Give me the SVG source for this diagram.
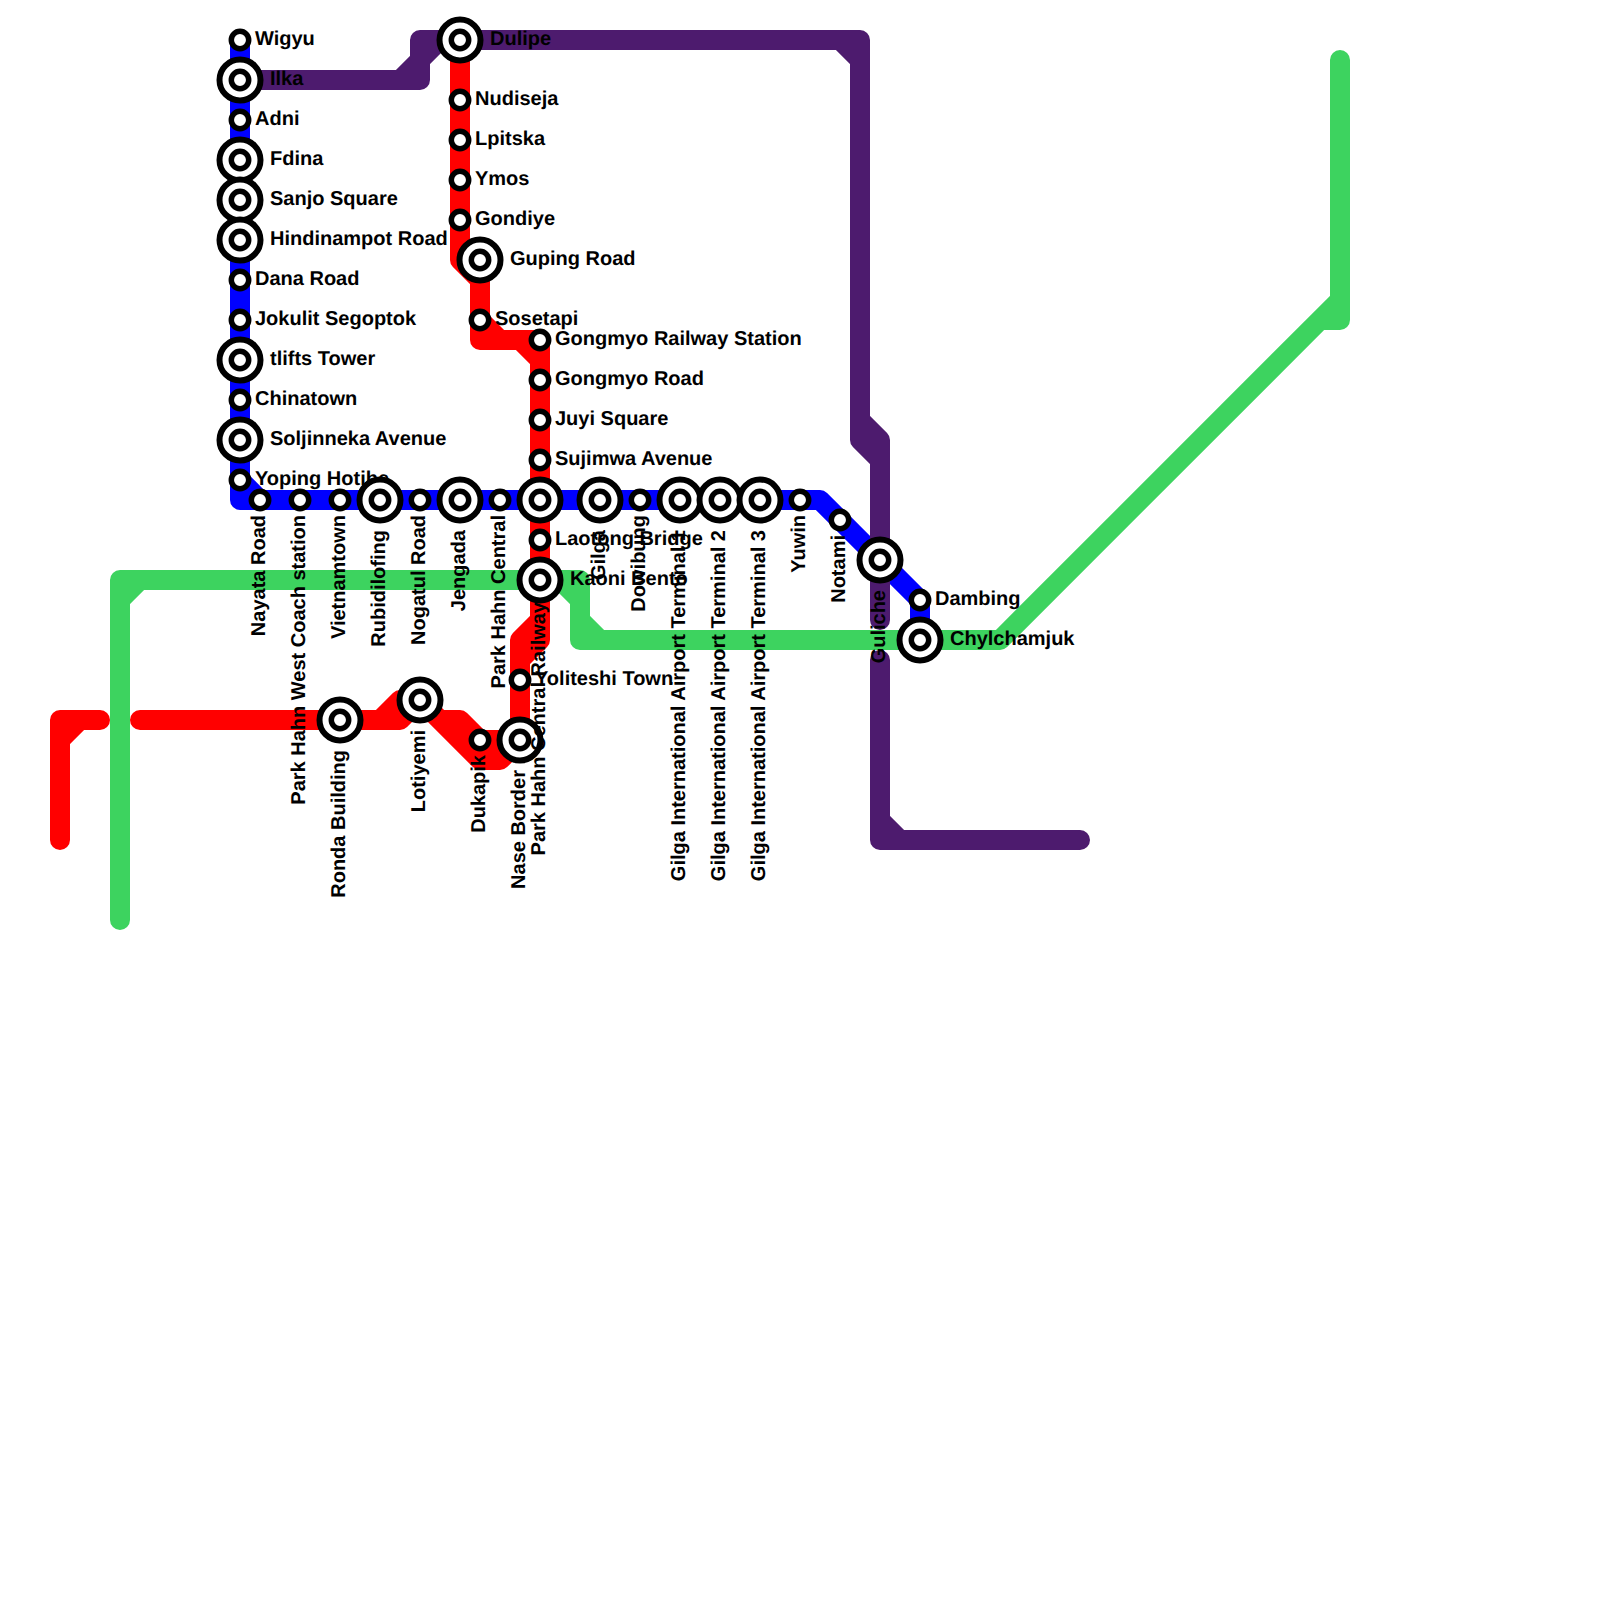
<svg xmlns="http://www.w3.org/2000/svg" width="1600" height="1600" viewBox="0 0 1600 1600">
<style>
.l{fill:none;stroke-width:20;stroke-linecap:round;stroke-linejoin:round}
.b{stroke:#0000ff}.g{stroke:#3dd35f}.r{stroke:#ff0000}.p{stroke:#4d1b6e}
circle{fill:#fff;stroke:#000;stroke-width:5.5}
circle[r="20.5"]{stroke-width:6}
text{font-family:"Liberation Sans",Arial,sans-serif;font-weight:700;font-size:20px;fill:#000;text-rendering:geometricPrecision}
.v{text-anchor:end}
</style>
<rect width="1600" height="1600" fill="#fff"/>
<g id="connectors">
<path class="l b" d="M240 40V500H820L920 600V640M240 480L260 500"/>
<path class="l g" d="M120 920V580H580V640H1000L1340 300V60M140 580L120 600M560 580L580 600M580 620L600 640M1320 320H1340V300"/>
<path class="l r" d="M100 720H60V840M80 720L60 740M140 720H400L420 700M380 720L400 700H420M420 700L440 720H460L480 740H520M420 700L480 760H500L520 740V640L540 620V340M540 620V640L520 660M460 40V260L480 280V340H540M480 260V280M480 320L500 340M520 340L540 360"/>
<path class="l p" d="M240 80H420V40H860V440L880 460V620M400 80L440 40M840 40L860 60M860 420L880 440V460M880 660V840H1080M880 820L900 840"/>
</g>
<g id="st-ronda"><circle cx="340" cy="720" r="20.5"/><circle cx="340" cy="720" r="8.7"/><text class="v" transform="translate(345 750) rotate(-90)">Ronda Building</text></g>
<g id="st-lotiyemi"><circle cx="420" cy="700" r="20.5"/><circle cx="420" cy="700" r="8.7"/><text class="v" transform="translate(425 730) rotate(-90)">Lotiyemi</text></g>
<g id="st-dukapik"><circle cx="480" cy="740" r="8.7"/><text class="v" transform="translate(485 755) rotate(-90)">Dukapik</text></g>
<g id="st-nase"><circle cx="520" cy="740" r="20.5"/><circle cx="520" cy="740" r="8.7"/><text class="v" transform="translate(525 770) rotate(-90)">Nase Border</text></g>
<g id="st-yoliteshi"><circle cx="520" cy="680" r="8.7"/><text x="535" y="684.5">Yoliteshi Town</text></g>
<g id="st-dulipe"><circle cx="460" cy="40" r="20.5"/><circle cx="460" cy="40" r="8.7"/><text x="490" y="44.5">Dulipe</text></g>
<g id="st-nudiseja"><circle cx="460" cy="100" r="8.7"/><text x="475" y="104.5">Nudiseja</text></g>
<g id="st-lpitska"><circle cx="460" cy="140" r="8.7"/><text x="475" y="144.5">Lpitska</text></g>
<g id="st-ymos"><circle cx="460" cy="180" r="8.7"/><text x="475" y="184.5">Ymos</text></g>
<g id="st-gondiye"><circle cx="460" cy="220" r="8.7"/><text x="475" y="224.5">Gondiye</text></g>
<g id="st-guping"><circle cx="480" cy="260" r="20.5"/><circle cx="480" cy="260" r="8.7"/><text x="510" y="264.5">Guping Road</text></g>
<g id="st-sosetapi"><circle cx="480" cy="320" r="8.7"/><text x="495" y="324.5">Sosetapi</text></g>
<g id="st-gongmyo-rs"><circle cx="540" cy="340" r="8.7"/><text x="555" y="344.5">Gongmyo Railway Station</text></g>
<g id="st-gongmyo-rd"><circle cx="540" cy="380" r="8.7"/><text x="555" y="384.5">Gongmyo Road</text></g>
<g id="st-juyi"><circle cx="540" cy="420" r="8.7"/><text x="555" y="424.5">Juyi Square</text></g>
<g id="st-sujimwa"><circle cx="540" cy="460" r="8.7"/><text x="555" y="464.5">Sujimwa Avenue</text></g>
<g id="st-laotong"><circle cx="540" cy="540" r="8.7"/><text x="555" y="544.5">Laotong Bridge</text></g>
<g id="st-kaoni"><circle cx="540" cy="580" r="20.5"/><circle cx="540" cy="580" r="8.7"/><text x="570" y="584.5">Kaoni Bento</text></g>
<g id="st-wigyu"><circle cx="240" cy="40" r="8.7"/><text x="255" y="44.5">Wigyu</text></g>
<g id="st-ilka"><circle cx="240" cy="80" r="20.5"/><circle cx="240" cy="80" r="8.7"/><text x="270" y="84.5">Ilka</text></g>
<g id="st-adni"><circle cx="240" cy="120" r="8.7"/><text x="255" y="124.5">Adni</text></g>
<g id="st-fdina"><circle cx="240" cy="160" r="20.5"/><circle cx="240" cy="160" r="8.7"/><text x="270" y="164.5">Fdina</text></g>
<g id="st-sanjo"><circle cx="240" cy="200" r="20.5"/><circle cx="240" cy="200" r="8.7"/><text x="270" y="204.5">Sanjo Square</text></g>
<g id="st-hindinampot"><circle cx="240" cy="240" r="20.5"/><circle cx="240" cy="240" r="8.7"/><text x="270" y="244.5">Hindinampot Road</text></g>
<g id="st-dana"><circle cx="240" cy="280" r="8.7"/><text x="255" y="284.5">Dana Road</text></g>
<g id="st-jokulit"><circle cx="240" cy="320" r="8.7"/><text x="255" y="324.5">Jokulit Segoptok</text></g>
<g id="st-tlifts"><circle cx="240" cy="360" r="20.5"/><circle cx="240" cy="360" r="8.7"/><text x="270" y="364.5">tlifts Tower</text></g>
<g id="st-chinatown"><circle cx="240" cy="400" r="8.7"/><text x="255" y="404.5">Chinatown</text></g>
<g id="st-soljinneka"><circle cx="240" cy="440" r="20.5"/><circle cx="240" cy="440" r="8.7"/><text x="270" y="444.5">Soljinneka Avenue</text></g>
<g id="st-yoping"><circle cx="240" cy="480" r="8.7"/><text x="255" y="484.5">Yoping Hotibe</text></g>
<g id="st-nayata"><circle cx="260" cy="500" r="8.7"/><text class="v" transform="translate(265 515) rotate(-90)">Nayata Road</text></g>
<g id="st-west-coach"><circle cx="300" cy="500" r="8.7"/><text class="v" transform="translate(305 515) rotate(-90)">Park Hahn West Coach station</text></g>
<g id="st-vietnamtown"><circle cx="340" cy="500" r="8.7"/><text class="v" transform="translate(345 515) rotate(-90)">Vietnamtown</text></g>
<g id="st-rubidilofing"><circle cx="380" cy="500" r="20.5"/><circle cx="380" cy="500" r="8.7"/><text class="v" transform="translate(385 530) rotate(-90)">Rubidilofing</text></g>
<g id="st-nogatul"><circle cx="420" cy="500" r="8.7"/><text class="v" transform="translate(425 515) rotate(-90)">Nogatul Road</text></g>
<g id="st-jengada"><circle cx="460" cy="500" r="20.5"/><circle cx="460" cy="500" r="8.7"/><text class="v" transform="translate(465 530) rotate(-90)">Jengada</text></g>
<g id="st-phc"><circle cx="500" cy="500" r="8.7"/><text class="v" transform="translate(505 515) rotate(-90)">Park Hahn Central</text></g>
<g id="st-phc-railway"><circle cx="540" cy="500" r="20.5"/><circle cx="540" cy="500" r="8.7"/><text class="v" transform="translate(545 602) rotate(-90)">Park Hahn Central Railway</text></g>
<g id="st-gilga"><circle cx="600" cy="500" r="20.5"/><circle cx="600" cy="500" r="8.7"/><text class="v" transform="translate(605 530) rotate(-90)">Gilga</text></g>
<g id="st-dowibung"><circle cx="640" cy="500" r="8.7"/><text class="v" transform="translate(645 515) rotate(-90)">Dowibung</text></g>
<g id="st-t1"><circle cx="680" cy="500" r="20.5"/><circle cx="680" cy="500" r="8.7"/><text class="v" transform="translate(685 530) rotate(-90)">Gilga International Airport Terminal 1</text></g>
<g id="st-t2"><circle cx="720" cy="500" r="20.5"/><circle cx="720" cy="500" r="8.7"/><text class="v" transform="translate(725 530) rotate(-90)">Gilga International Airport Terminal 2</text></g>
<g id="st-t3"><circle cx="760" cy="500" r="20.5"/><circle cx="760" cy="500" r="8.7"/><text class="v" transform="translate(765 530) rotate(-90)">Gilga International Airport Terminal 3</text></g>
<g id="st-yuwin"><circle cx="800" cy="500" r="8.7"/><text class="v" transform="translate(805 515) rotate(-90)">Yuwin</text></g>
<g id="st-notami"><circle cx="840" cy="520" r="8.7"/><text class="v" transform="translate(845 535) rotate(-90)">Notami</text></g>
<g id="st-guliche"><circle cx="880" cy="560" r="20.5"/><circle cx="880" cy="560" r="8.7"/><text class="v" transform="translate(885 590) rotate(-90)">Guliche</text></g>
<g id="st-dambing"><circle cx="920" cy="600" r="8.7"/><text x="935" y="604.5">Dambing</text></g>
<g id="st-chylchamjuk"><circle cx="920" cy="640" r="20.5"/><circle cx="920" cy="640" r="8.7"/><text x="950" y="644.5">Chylchamjuk</text></g>
</svg>
